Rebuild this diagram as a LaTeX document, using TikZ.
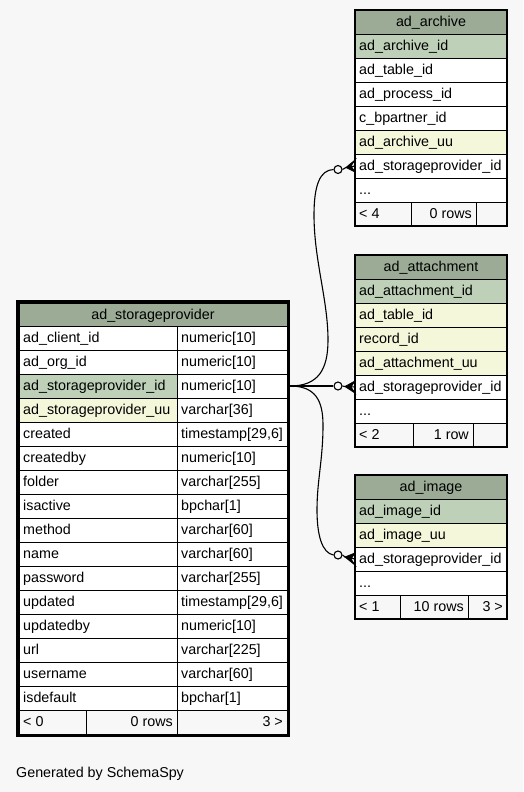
\documentclass[tikz,border=0pt]{standalone}
\usepackage{fontspec}
\setmainfont{Liberation Sans}
\usetikzlibrary{calc}
\definecolor{bgc}{HTML}{F7F7F7}
\definecolor{hdr}{HTML}{9BAB96}
\definecolor{pk}{HTML}{BED1B8}
\definecolor{idx}{HTML}{F4F7DA}
\definecolor{ftr}{HTML}{F7F7F7}
\tikzset{
  cellbox/.style={draw=black, line width=0.9pt, rectangle, inner sep=0pt, outer sep=0pt},
  celltext/.style={font=\fontsize{14.3pt}{17pt}\selectfont, inner sep=0pt, text=black},
  conn/.style={draw=black, line width=1.1pt},
  crowf/.style={draw=black, fill=black, line width=0.8pt, line join=miter},
  ocirc/.style={circle, draw=black, fill=bgc, line width=1.1pt, minimum size=8pt, inner sep=0pt},
  tframe/.style={draw=black, line width=1.6pt},
  mframe/.style={draw=black, line width=3pt}
}
% #1 name, #2 x1, #3 y1, #4 x2, #5 y2, #6 fill
\newcommand\mkbox[6]{%
  \pgfmathsetmacro\mycw{(#4)-(#2)}\pgfmathsetmacro\mych{(#5)-(#3)}%
  \node[cellbox, fill=#6, minimum width=\mycw pt, minimum height=\mych pt, anchor=north west] (#1) at (#2,#3) {};}
\newcommand\cL[7]{\mkbox{#1}{#2}{#3}{#4}{#5}{#6}%
  \node[celltext, anchor=base west, xshift=4pt, yshift=-4.5pt] at (#1.west) {#7};}
\newcommand\cR[7]{\mkbox{#1}{#2}{#3}{#4}{#5}{#6}%
  \node[celltext, anchor=base east, xshift=-4pt, yshift=-4.5pt] at (#1.east) {#7};}
\newcommand\cC[7]{\mkbox{#1}{#2}{#3}{#4}{#5}{#6}%
  \node[celltext, anchor=base, yshift=-4.5pt] at (#1.center) {#7};}
% crow's foot: #1 tip coordinate, #2 target cell
\newcommand\crowfoot[2]{%
  \fill[crowf] (#1) -- ([yshift=6pt]#2.west) -- ([xshift=-4pt]#2.west) -- ([yshift=-6pt]#2.west) -- cycle;
  \draw[conn] (#1) -- (#2.west);}
\begin{document}
\begin{tikzpicture}[x=1pt, y=-1pt]
\fill[bgc] (0,0) rectangle (523,792);
\useasboundingbox (0,0) rectangle (523,792);

% ---------- main table: ad_storageprovider ----------
\cC{mh}{19}{303}{287}{326}{hdr}{ad\_storageprovider}
\foreach \i/\a/\b/\c in {
  1/ad\_client\_id/numeric[10]/white,
  2/ad\_org\_id/numeric[10]/white,
  3/ad\_storageprovider\_id/numeric[10]/pk,
  4/ad\_storageprovider\_uu/varchar[36]/idx,
  5/created/{timestamp[29,6]}/white,
  6/createdby/numeric[10]/white,
  7/folder/varchar[255]/white,
  8/isactive/bpchar[1]/white,
  9/method/varchar[60]/white,
  10/name/varchar[60]/white,
  11/password/varchar[255]/white,
  12/updated/{timestamp[29,6]}/white,
  13/updatedby/numeric[10]/white,
  14/url/varchar[225]/white,
  15/username/varchar[60]/white,
  16/isdefault/bpchar[1]/white}{
  \pgfmathsetmacro\ya{326+24*(\i-1)}
  \pgfmathsetmacro\yb{350+24*(\i-1)}
  \cL{ml\i}{19}{\ya}{177}{\yb}{\c}{\a}
  \cL{mr\i}{177}{\ya}{287}{\yb}{white}{\b}
}
\cL{mf1}{19}{710}{86}{734}{ftr}{< 0}
\cR{mf2}{86}{710}{177}{734}{ftr}{0 rows}
\cR{mf3}{177}{710}{287}{734}{ftr}{3 >}
\draw[mframe] (17.5,301.5) rectangle (288.5,735.5);

% ---------- ad_archive ----------
\cC{ah}{355}{10}{507}{34}{hdr}{ad\_archive}
\cL{a1}{355}{34}{507}{58}{pk}{ad\_archive\_id}
\cL{a2}{355}{58}{507}{82}{white}{ad\_table\_id}
\cL{a3}{355}{82}{507}{106}{white}{ad\_process\_id}
\cL{a4}{355}{106}{507}{130}{white}{c\_bpartner\_id}
\cL{a5}{355}{130}{507}{154}{idx}{ad\_archive\_uu}
\cL{a6}{355}{154}{507}{178}{white}{ad\_storageprovider\_id}
\cL{a7}{355}{178}{507}{202}{white}{...}
\cL{af1}{355}{202}{411}{226}{ftr}{< 4}
\cR{af2}{411}{202}{476}{226}{ftr}{0 rows}
\cR{af3}{476}{202}{507}{226}{ftr}{}
\draw[tframe] (355,10) rectangle (507,226);

% ---------- ad_attachment ----------
\cC{bh}{355}{255}{507}{279}{hdr}{ad\_attachment}
\cL{b1}{355}{279}{507}{303}{pk}{ad\_attachment\_id}
\cL{b2}{355}{303}{507}{327}{idx}{ad\_table\_id}
\cL{b3}{355}{327}{507}{351}{idx}{record\_id}
\cL{b4}{355}{351}{507}{375}{idx}{ad\_attachment\_uu}
\cL{b5}{355}{375}{507}{399}{white}{ad\_storageprovider\_id}
\cL{b6}{355}{399}{507}{423}{white}{...}
\cL{bf1}{355}{423}{413}{447}{ftr}{< 2}
\cR{bf2}{413}{423}{473}{447}{ftr}{1 row}
\cR{bf3}{473}{423}{507}{447}{ftr}{}
\draw[tframe] (355,255) rectangle (507,447);

% ---------- ad_image ----------
\cC{ch}{355}{475}{507}{499}{hdr}{ad\_image}
\cL{c1}{355}{499}{507}{523}{pk}{ad\_image\_id}
\cL{c2}{355}{523}{507}{547}{idx}{ad\_image\_uu}
\cL{c3}{355}{547}{507}{571}{white}{ad\_storageprovider\_id}
\cL{c4}{355}{571}{507}{595}{white}{...}
\cL{cf1}{355}{595}{400}{619}{ftr}{< 1}
\cR{cf2}{400}{595}{468}{619}{ftr}{10 rows}
\cR{cf3}{468}{595}{507}{619}{ftr}{3 >}
\draw[tframe] (355,475) rectangle (507,619);

% ---------- connectors ----------
\coordinate (src) at ([xshift=3pt]mr3.east);
\node[ocirc] (oa) at (338,169.5) {};
\node[ocirc] (ob) at (338,386) {};
\node[ocirc] (oc) at (338,555) {};
\coordinate (ta) at (346,167.5);
\coordinate (tb) at (345,386.5);
\coordinate (tc) at (345,557);

\draw[conn] (src) .. controls (318,386) and (328,370) .. (328,340)
  .. controls (328,300) and (314,260) .. (314,215)
  .. controls (314,185) and (320,170) .. (oa.west);
\draw[conn] (src) -- (ob.west);
\draw[conn] (src) .. controls (315,386) and (323,400) .. (323,425)
  .. controls (323,460) and (317,480) .. (317,510)
  .. controls (317,535) and (322,553) .. (oc.west);

\draw[conn] (oa.east) -- (ta);
\crowfoot{ta}{a6}
\draw[conn] (ob.east) -- (tb);
\crowfoot{tb}{b5}
\draw[conn] (oc.east) -- (tc);
\crowfoot{tc}{c3}

\node[celltext, anchor=base west] (gen) at (16,777) {Generated by SchemaSpy};
\end{tikzpicture}
\end{document}
